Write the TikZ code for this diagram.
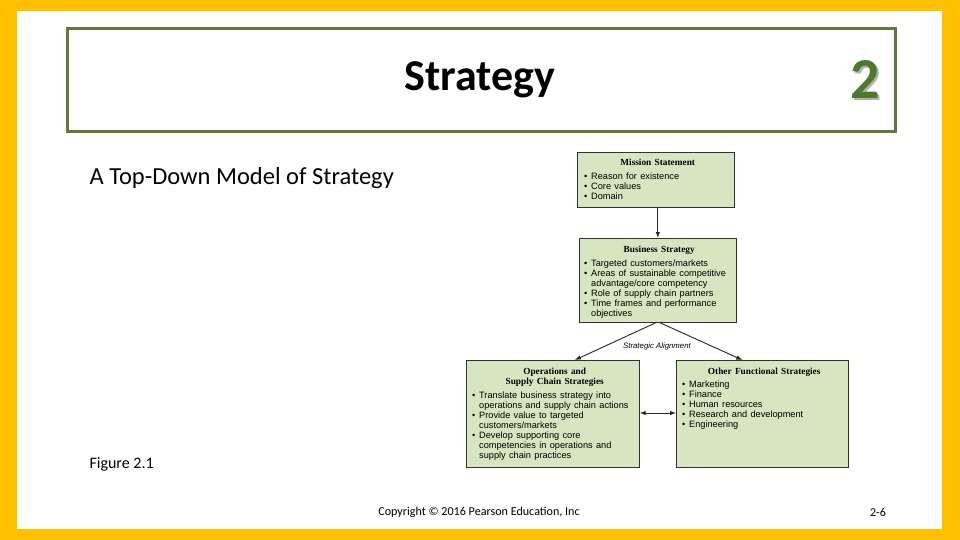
\documentclass[tikz,border=0pt]{standalone}
\usepackage{fontspec}
\setmainfont{Carlito}
\newfontfamily\figsans{Liberation Sans}
\newfontfamily\figserif{Liberation Serif}
\usetikzlibrary{arrows.meta, positioning}
\definecolor{slideyellow}{HTML}{FFC000}
\definecolor{framegreen}{HTML}{5B7B3B}
\definecolor{boxgreen}{HTML}{D7E5C1}
\definecolor{numgreen}{HTML}{4E7A2C}
% bullet line with hanging indent
\newcommand{\bul}[1]{\par\hangindent=7pt\hangafter=1\noindent\makebox[7pt][l]{\textbullet}#1}
\newcommand{\boxhd}{\figserif\bfseries\fontsize{9.3}{10.2}\selectfont}
\newcommand{\boxtx}{\figsans\fontsize{9.2}{9.9}\selectfont}

\begin{document}
\begin{tikzpicture}[x=1pt, y=-1pt, >={Latex[length=6pt,width=4.5pt]}]
 % We define the styles for the figure boxes and the arrows
 \tikzset{
figbox/.style = {draw=black!80, fill=boxgreen, line width=0.7pt, rectangle, anchor=north west, inner sep=0pt},
boxtext/.style = {anchor=north west, inner sep=0pt},
line/.style = {draw, ->, line width=0.9pt, black!85},
}

 % Slide background and frame
 \fill[slideyellow] (0,0) rectangle (960,540);
 \fill[white] (17,11) rectangle (942,529);
 \useasboundingbox (0,0) rectangle (960,540);
 \draw[framegreen, line width=3pt] (67,29) rectangle (895,132);
 \node (title) at (480,80) {\fontsize{44}{48}\selectfont\bfseries Strategy};
 \node (num) at (865,80) {\fontsize{58}{60}\selectfont\bfseries
   \makebox[0pt][l]{\hspace{2pt}\raisebox{-2pt}{\color{gray!60}2}}\color{numgreen}2};

 % Captions
 \node[anchor=west] (subtitle) at (86,178) {\fontsize{24.5}{28}\selectfont A Top-Down Model of Strategy};
 \node[anchor=west] (figlabel) at (86,464) {\fontsize{16}{18}\selectfont Figure 2.1};
 \node (copyright) at (479,512) {\fontsize{12.1}{14}\selectfont Copyright \textcopyright{} 2016 Pearson Education, Inc};
 \node (pageno) at (878,512) {\fontsize{12}{14}\selectfont 2-6};

 % Mission statement block
 \node[figbox, minimum width=157pt, minimum height=55pt] (mission) at (577,152) {};
 \node[boxtext, text width=147pt] (missiontext) at ([xshift=7pt, yshift=-7pt]mission.north west)
 {{\centering\boxhd Mission Statement\par}
 \vspace{4pt}\boxtx
 \bul{Reason for existence}
 \bul{Core values}
 \bul{Domain}\par};

 % Business strategy block
 \node[figbox, minimum width=157pt, minimum height=84pt] (business) at (579,238) {};
 \node[boxtext, text width=150pt] (businesstext) at ([xshift=5pt, yshift=-8pt]business.north west)
 {{\centering\boxhd Business Strategy\par}
 \vspace{4pt}\boxtx
 \bul{Targeted customers/markets}
 \bul{Areas of sustainable competitive\newline advantage/core competency}
 \bul{Role of supply chain partners}
 \bul{Time frames and performance\newline objectives}\par};

 % Operations and supply chain block
 \node[figbox, minimum width=173pt, minimum height=107pt] (ops) at (466,360) {};
 \node[boxtext, text width=165pt] (opstext) at ([xshift=6pt, yshift=-8pt]ops.north west)
 {{\centering\boxhd Operations and\break Supply Chain Strategies\par}
 \vspace{4pt}\boxtx
 \bul{Translate business strategy into\newline operations and supply chain actions}
 \bul{Provide value to targeted\newline customers/markets}
 \bul{Develop supporting core\newline competencies in operations and\newline supply chain practices}\par};

 % Other functional strategies block
 \node[figbox, minimum width=172pt, minimum height=107pt] (other) at (676,360) {};
 \node[boxtext, text width=164pt] (othertext) at ([xshift=6pt, yshift=-8pt]other.north west)
 {{\centering\boxhd Other Functional Strategies\par}
 \vspace{3pt}\boxtx
 \bul{Marketing}
 \bul{Finance}
 \bul{Human resources}
 \bul{Research and development}
 \bul{Engineering}\par};

 % Arrows and alignment label
 \draw [line] (mission.south -| business.north) -- (business.north);
 \draw [line] ([xshift=-2pt]business.south) -- ([xshift=22pt]ops.north);
 \draw [line] ([xshift=2pt]business.south) -- ([xshift=-20pt]other.north);
 \node (align) at (657,346) {\figsans\itshape\fontsize{7.8}{9}\selectfont Strategic Alignment};
 \draw [line, <->] ([yshift=-53pt]ops.north east) -- ([yshift=-53pt]other.north west);

\end{tikzpicture}
\end{document}
